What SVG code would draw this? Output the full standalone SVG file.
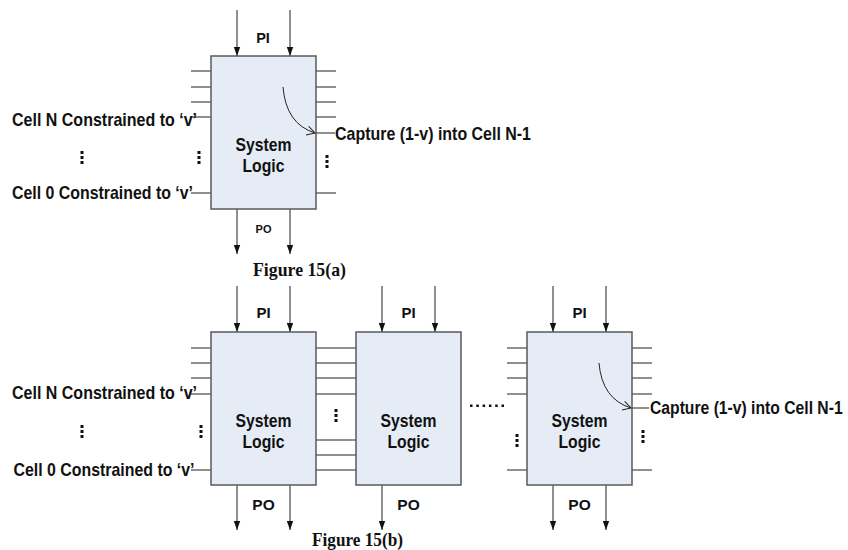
<svg xmlns="http://www.w3.org/2000/svg" width="848" height="550" viewBox="0 0 848 550">
<defs>
<marker id="ah" markerUnits="userSpaceOnUse" markerWidth="10" markerHeight="8" refX="9" refY="4" orient="auto" viewBox="0 0 10 8">
<path d="M0,0.8 L9,4 L0,7.2 Z" fill="#111"/>
</marker>
<marker id="open" markerUnits="userSpaceOnUse" markerWidth="12" markerHeight="12" refX="10" refY="6" orient="auto" viewBox="0 0 12 12">
<path d="M2,1.5 L10,6 L2,10.5" fill="none" stroke="#222" stroke-width="1"/>
</marker>
<style>
.box{fill:#E6ECF6;stroke:#5a5a5a;stroke-width:1.5}
.stub{stroke:#222;stroke-width:1.1;fill:none}
.arr{stroke:#333;stroke-width:1.1;fill:none;marker-end:url(#ah)}
.curve{stroke:#222;stroke-width:1;fill:none;marker-end:url(#open)}
.lbl{font-family:"Liberation Sans",Arial,sans-serif;font-weight:bold;fill:#111}
.cap{font-family:"Liberation Serif","Times New Roman",serif;font-weight:bold;fill:#111;font-size:19px}
.dot{fill:#111}
</style>
</defs>

<!-- Figure 15(a) -->
<g id="connectors-a">
<line class="arr" x1="237" y1="10" x2="237" y2="56"/>
<line class="arr" x1="290" y1="10" x2="290" y2="56"/>
<line class="arr" x1="237" y1="209" x2="237" y2="254"/>
<line class="arr" x1="290" y1="209" x2="290" y2="254"/>
<path class="stub" d="M191,71H211M191,87H211M191,102H211M191,117H211M191,193H211"/>
<path class="stub" d="M316,71H336M316,87H336M316,102H336M316,117H336M316,133H335M316,193H336"/>
</g>
<g id="node-a">
<rect class="box" x="211" y="56" width="105" height="153"/>
<text class="lbl" x="263.5" y="151" font-size="18.5" text-anchor="middle" textLength="56" lengthAdjust="spacingAndGlyphs">System</text>
<text class="lbl" x="263.5" y="171.5" font-size="18.5" text-anchor="middle" textLength="42" lengthAdjust="spacingAndGlyphs">Logic</text>
<path class="curve" d="M283,87 Q286,124 315,133"/>
</g>
<g id="labels-a">
<text class="lbl" x="263" y="43" font-size="14.5" text-anchor="middle">PI</text>
<text class="lbl" x="263.5" y="232.5" font-size="11" text-anchor="middle">PO</text>
<text class="lbl" x="12" y="126" font-size="18.5" textLength="185" lengthAdjust="spacingAndGlyphs">Cell N Constrained to ‘v’</text>
<text class="lbl" x="12" y="198.5" font-size="18.5" textLength="181" lengthAdjust="spacingAndGlyphs">Cell 0 Constrained to ‘v’</text>
<text class="lbl" x="335" y="139.5" font-size="18.5" textLength="196" lengthAdjust="spacingAndGlyphs">Capture (1-v) into Cell N-1</text>
<text class="cap" x="253" y="276" textLength="93" lengthAdjust="spacingAndGlyphs">Figure 15(a)</text>
</g>
<g id="dots-a">
<rect class="dot" x="80.5" y="151" width="3" height="3"/><rect class="dot" x="80.5" y="156" width="3" height="3"/><rect class="dot" x="80.5" y="161" width="3" height="3"/>
<rect class="dot" x="197.5" y="151" width="3" height="3"/><rect class="dot" x="197.5" y="156" width="3" height="3"/><rect class="dot" x="197.5" y="161" width="3" height="3"/>
<rect class="dot" x="325.5" y="155" width="3" height="3"/><rect class="dot" x="325.5" y="160" width="3" height="3"/><rect class="dot" x="325.5" y="165" width="3" height="3"/>
</g>

<!-- Figure 15(b) -->
<g id="connectors-b">
<line class="arr" x1="237" y1="286" x2="237" y2="332"/>
<line class="arr" x1="290" y1="286" x2="290" y2="332"/>
<line class="arr" x1="382" y1="286" x2="382" y2="332"/>
<line class="arr" x1="435" y1="286" x2="435" y2="332"/>
<line class="arr" x1="553" y1="286" x2="553" y2="332"/>
<line class="arr" x1="606" y1="286" x2="606" y2="332"/>
<line class="arr" x1="237" y1="485" x2="237" y2="530"/>
<line class="arr" x1="290" y1="485" x2="290" y2="530"/>
<line class="arr" x1="382" y1="485" x2="382" y2="530"/>
<line class="arr" x1="553" y1="485" x2="553" y2="530"/>
<line class="arr" x1="606" y1="485" x2="606" y2="530"/>
<path class="stub" d="M191,348H211M191,363H211M191,378H211M191,394H211M191,470H211"/>
<path class="stub" d="M316,348H356M316,363H356M316,378H356M316,394H356M316,440H356M316,455H356M316,470H356"/>
<path class="stub" d="M507,348H527M507,363H527M507,378H527M507,394H527M507,470H527"/>
<path class="stub" d="M632,348H652M632,363H652M632,378H652M632,394H652M632,408H649M632,470H652"/>
</g>
<g id="node-b1">
<rect class="box" x="211" y="332" width="105" height="153"/>
<text class="lbl" x="263.5" y="427" font-size="18.5" text-anchor="middle" textLength="56" lengthAdjust="spacingAndGlyphs">System</text>
<text class="lbl" x="263.5" y="447.5" font-size="18.5" text-anchor="middle" textLength="42" lengthAdjust="spacingAndGlyphs">Logic</text>
</g>
<g id="node-b2">
<rect class="box" x="356" y="332" width="105" height="153"/>
<text class="lbl" x="408.5" y="427" font-size="18.5" text-anchor="middle" textLength="56" lengthAdjust="spacingAndGlyphs">System</text>
<text class="lbl" x="408.5" y="447.5" font-size="18.5" text-anchor="middle" textLength="42" lengthAdjust="spacingAndGlyphs">Logic</text>
</g>
<g id="node-b3">
<rect class="box" x="527" y="332" width="105" height="153"/>
<text class="lbl" x="579.5" y="427" font-size="18.5" text-anchor="middle" textLength="56" lengthAdjust="spacingAndGlyphs">System</text>
<text class="lbl" x="579.5" y="447.5" font-size="18.5" text-anchor="middle" textLength="42" lengthAdjust="spacingAndGlyphs">Logic</text>
<path class="curve" d="M599,363 Q602,399 631,408"/>
</g>
<g id="labels-b">
<text class="lbl" x="263.5" y="318" font-size="15" text-anchor="middle">PI</text>
<text class="lbl" x="408.5" y="318" font-size="15" text-anchor="middle">PI</text>
<text class="lbl" x="579.5" y="318" font-size="15" text-anchor="middle">PI</text>
<text class="lbl" x="263.5" y="510" font-size="15.5" text-anchor="middle">PO</text>
<text class="lbl" x="408.5" y="510" font-size="15.5" text-anchor="middle">PO</text>
<text class="lbl" x="579.5" y="510" font-size="15.5" text-anchor="middle">PO</text>
<text class="lbl" x="12" y="399" font-size="18.5" textLength="185" lengthAdjust="spacingAndGlyphs">Cell N Constrained to ‘v’</text>
<text class="lbl" x="13.5" y="475.5" font-size="18.5" textLength="181" lengthAdjust="spacingAndGlyphs">Cell 0 Constrained to ‘v’</text>
<text class="lbl" x="0" y="0" font-size="15.7" transform="translate(650,414) scale(1,1.15)">Capture (1-v) into Cell N-1</text>
<text class="cap" x="312" y="546" textLength="91" lengthAdjust="spacingAndGlyphs">Figure 15(b)</text>
</g>
<g id="dots-b">
<rect class="dot" x="80.5" y="425" width="3" height="3"/><rect class="dot" x="80.5" y="430" width="3" height="3"/><rect class="dot" x="80.5" y="435" width="3" height="3"/>
<rect class="dot" x="199.5" y="425" width="3" height="3"/><rect class="dot" x="199.5" y="430" width="3" height="3"/><rect class="dot" x="199.5" y="435" width="3" height="3"/>
<rect class="dot" x="334.5" y="409" width="3" height="3"/><rect class="dot" x="334.5" y="414" width="3" height="3"/><rect class="dot" x="334.5" y="419" width="3" height="3"/>
<rect class="dot" x="515.5" y="434" width="3" height="3"/><rect class="dot" x="515.5" y="439" width="3" height="3"/><rect class="dot" x="515.5" y="444" width="3" height="3"/>
<rect class="dot" x="641.5" y="430" width="3" height="3"/><rect class="dot" x="641.5" y="435" width="3" height="3"/><rect class="dot" x="641.5" y="440" width="3" height="3"/>
<rect class="dot" x="470" y="404.5" width="2.5" height="2.5"/><rect class="dot" x="476.3" y="404.5" width="2.5" height="2.5"/><rect class="dot" x="482.6" y="404.5" width="2.5" height="2.5"/><rect class="dot" x="488.9" y="404.5" width="2.5" height="2.5"/><rect class="dot" x="495.2" y="404.5" width="2.5" height="2.5"/><rect class="dot" x="501.5" y="404.5" width="2.5" height="2.5"/>
</g>
</svg>
